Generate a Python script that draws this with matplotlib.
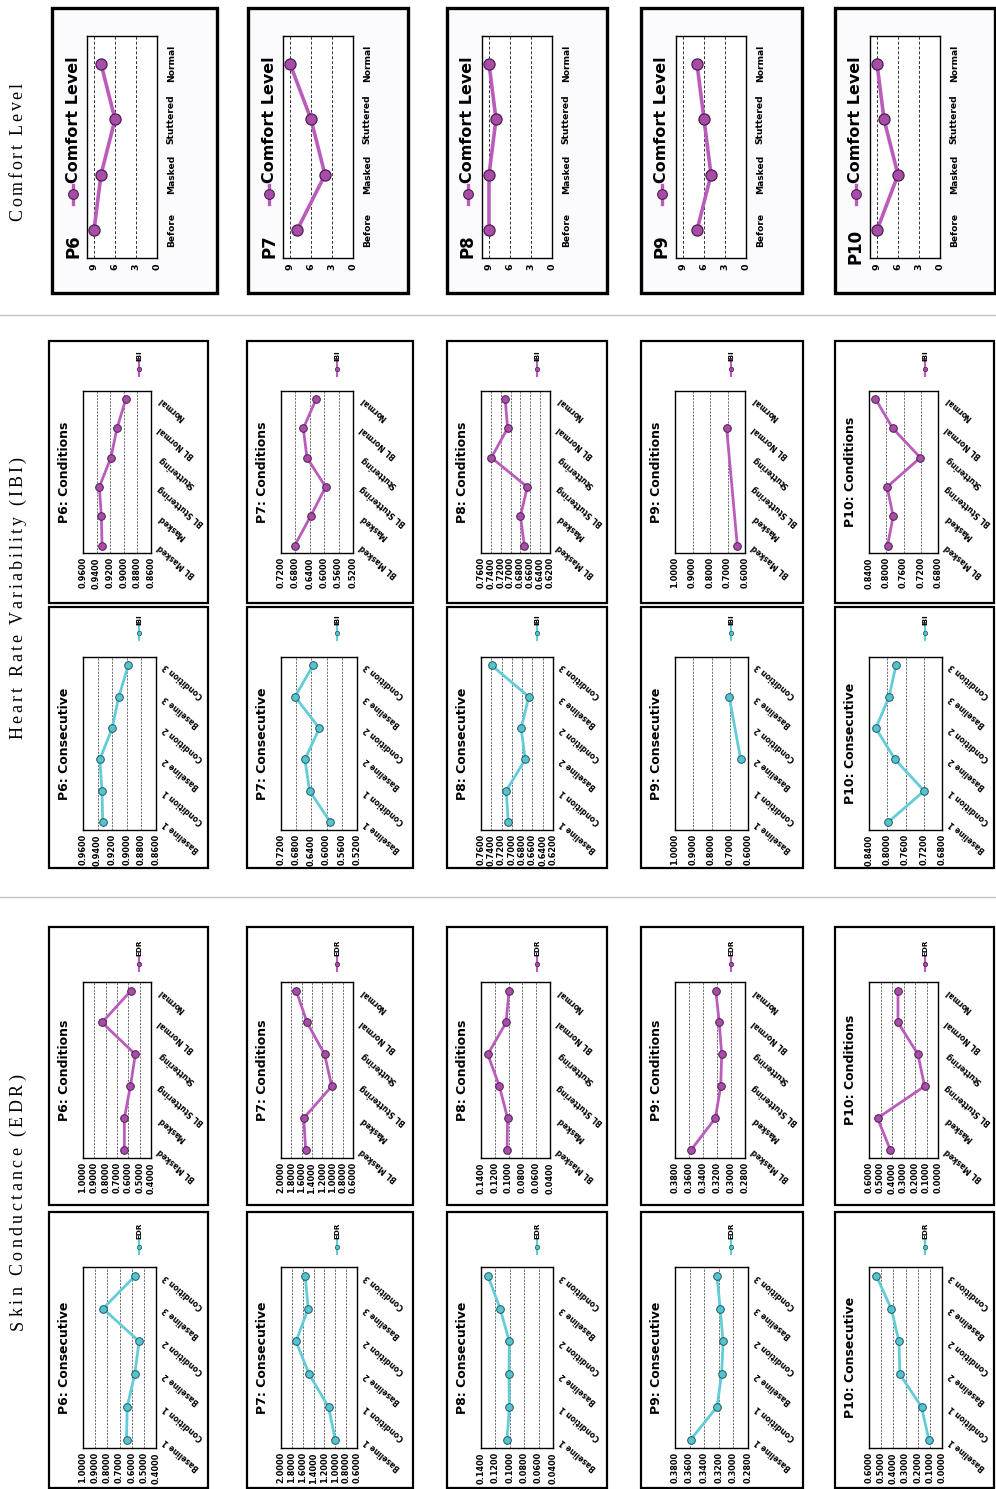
import numpy as np
import matplotlib
matplotlib.use('Agg')
import matplotlib.pyplot as plt
from matplotlib.patches import Rectangle
from matplotlib.font_manager import FontProperties, findfont
from matplotlib.ft2font import FT2Font

W, H = 996, 1489
nan = np.nan

participants = ['P6', 'P7', 'P8', 'P9', 'P10']
comfort_cats = ['Before', 'Masked', 'Stuttered', 'Normal']
cond_cats = ['BL Masked', 'Masked', 'BL Stuttering', 'Stuttering', 'BL Normal', 'Normal']
consec_cats = ['Baseline 1', 'Condition 1', 'Baseline 2', 'Condition 2', 'Baseline 3', 'Condition 3']

# comfort level (Before, Masked, Stuttered, Normal)
comfort_p6 = [9, 8, 6, 8]
comfort_p7 = [8, 4, 6, 9]
comfort_p8 = [9, 9, 8, 9]
comfort_p9 = [7, 5, 6, 7]
comfort_p10 = [9, 6, 8, 9]
comfort_ticks = [9, 6, 3, 0]

# IBI
ibi_cond_p6 = [0.932, 0.933, 0.936, 0.919, 0.910, 0.897]
ibi_cond_p7 = [0.682, 0.638, 0.596, 0.648, 0.658, 0.622]
ibi_cond_p8 = [0.672, 0.680, 0.666, 0.739, 0.706, 0.711]
ibi_cond_p9 = [0.644, nan, nan, nan, 0.705, nan]
ibi_cond_p10 = [0.797, 0.784, 0.798, 0.721, 0.785, 0.825]

ibi_consec_p6 = [0.933, 0.934, 0.937, 0.920, 0.911, 0.898]
ibi_consec_p7 = [0.590, 0.645, 0.657, 0.619, 0.683, 0.636]
ibi_consec_p8 = [0.707, 0.711, 0.674, 0.682, 0.667, 0.739]
ibi_consec_p9 = [nan, nan, 0.640, nan, 0.703, nan]
ibi_consec_p10 = [0.798, 0.719, 0.783, 0.825, 0.796, 0.781]

# EDR
edr_cond_p6 = [0.635, 0.635, 0.582, 0.538, 0.832, 0.576]
edr_cond_p7 = [1.520, 1.558, 1.014, 1.152, 1.493, 1.705]
edr_cond_p8 = [0.1022, 0.1015, 0.1133, 0.1302, 0.1036, 0.0994]
edr_cond_p9 = [0.3571, 0.3224, 0.3147, 0.3133, 0.3168, 0.3217]
edr_cond_p10 = [0.414, 0.526, 0.117, 0.174, 0.348, 0.348]

edr_consec_p6 = [0.642, 0.637, 0.575, 0.539, 0.835, 0.573]
edr_consec_p7 = [1.000, 1.125, 1.482, 1.723, 1.500, 1.554]
edr_consec_p8 = [0.1039, 0.1006, 0.1013, 0.1006, 0.1135, 0.1303]
edr_consec_p9 = [0.3587, 0.3226, 0.3161, 0.3142, 0.3181, 0.3226]
edr_consec_p10 = [0.108, 0.168, 0.346, 0.354, 0.417, 0.540]

# value axis (max, min, step) per participant
ibi_axis = [(0.96, 0.86, 0.02), (0.72, 0.52, 0.04), (0.76, 0.62, 0.02), (1.0, 0.6, 0.1), (0.84, 0.68, 0.04)]
edr_axis = [(1.0, 0.4, 0.1), (2.0, 0.6, 0.2), (0.14, 0.04, 0.02), (0.38, 0.28, 0.02), (0.6, 0.0, 0.1)]

comfort_vals = [comfort_p6, comfort_p7, comfort_p8, comfort_p9, comfort_p10]
ibi_cond = [ibi_cond_p6, ibi_cond_p7, ibi_cond_p8, ibi_cond_p9, ibi_cond_p10]
ibi_consec = [ibi_consec_p6, ibi_consec_p7, ibi_consec_p8, ibi_consec_p9, ibi_consec_p10]
edr_cond = [edr_cond_p6, edr_cond_p7, edr_cond_p8, edr_cond_p9, edr_cond_p10]
edr_consec = [edr_consec_p6, edr_consec_p7, edr_consec_p8, edr_consec_p9, edr_consec_p10]

purple_line, purple_face, purple_edge = '#bb5cbd', '#a84ca9', '#4b1f4c'
cyan_line, cyan_face, cyan_edge = '#62cdd8', '#55c3cf', '#1f5a60'

# layout in pixels
col_x = [49, 247, 447, 641, 835]
col_w = [159, 166, 160, 162, 159]
cond_pw = [68, 72, 69, 70, 69]
consec_pw = [73, 76, 72, 73, 73]
comfort_x = [52, 248, 447, 641, 835]
comfort_w = [165, 160, 160, 161, 160]

fig = plt.figure(figsize=(W / 100, H / 100), dpi=100)
fig.patch.set_facecolor('white')
ov = fig.add_axes([0, 0, 1, 1], zorder=-1)
ov.set_xlim(0, W)
ov.set_ylim(H, 0)
ov.axis('off')


def new_axes(x0, y0, w, h):
    return fig.add_axes([x0 / W, 1 - (y0 + h) / H, w / W, h / H])


def spaced_text(x, yc, s, size, track):
    fp = FontProperties(family='Liberation Serif', size=size)
    ft = FT2Font(findfont(fp))
    ft.set_size(size, 100)
    advs = [ft.load_char(ord(c)).linearHoriAdvance / 65536 for c in s]
    total = sum(advs) + track * (len(s) - 1)
    y = yc + total / 2
    for c, a in zip(s, advs):
        ov.text(x, y - a / 2, c, rotation=90, ha='center', va='center', fontproperties=fp)
        y -= a + track


def comfort_panel(i):
    fx, fw = comfort_x[i], comfort_w[i]
    ov.add_patch(Rectangle((fx, 8), fw, 285, fc='#fbfbfd', ec='black', lw=2.4))
    ax = new_axes(fx + 35, 36, 70, 222)
    vals = comfort_vals[i]
    ax.plot(vals, range(len(vals)), color=purple_line, lw=2.6, marker='o', ms=8,
            mfc=purple_face, mec=purple_edge, mew=0.9, zorder=3)
    ax.set_xlim(10, 0)
    ax.set_ylim(-0.5, 3.5)
    ax.set_xticks(comfort_ticks)
    ax.set_xticklabels([str(t) for t in comfort_ticks], rotation=90, fontsize=6.8, fontweight='bold')
    ax.yaxis.tick_right()
    ax.set_yticks(range(len(comfort_cats)))
    ax.set_yticklabels(comfort_cats, rotation=90, ha='left', va='center', fontsize=6.6, fontweight='bold')
    ax.tick_params(axis='x', length=0, pad=4)
    ax.tick_params(axis='y', length=0, pad=7)
    for t in comfort_ticks[:-1]:
        ax.axvline(t, color='#333333', lw=0.7, ls=(0, (3, 2)), zorder=1)
    for s in ax.spines.values():
        s.set_linewidth(1.0)
    lx = fx + 21
    ov.text(lx, 246, participants[i], rotation=90, ha='center', va='center', fontsize=12, fontweight='bold')
    ov.plot([lx, lx], [185, 204], color=purple_line, lw=2.4)
    ov.plot([lx], [194], marker='o', ms=7, mfc=purple_face, mec=purple_edge, mew=0.8)
    ov.text(lx, 183, 'Comfort Level', rotation=90, ha='center', va='bottom', fontsize=11.5, fontweight='bold')


def small_panel(i, fy0, fy1, py0, py1, pw, kind, vals, cats, axis_range, colors, leg_dy, legend):
    fx, fw = col_x[i], col_w[i]
    line_c, face_c, edge_c = colors
    ov.add_patch(Rectangle((fx, fy0), fw, fy1 - fy0, fc='white', ec='black', lw=1.6))
    ax = new_axes(fx + 34, py0, pw, py1 - py0)
    hi, lo, step = axis_range
    n = int(round((hi - lo) / step)) + 1
    ticks = np.linspace(hi, lo, n)
    v = np.array(vals, dtype=float)
    idx = np.arange(len(v))
    ok = ~np.isnan(v)
    ax.plot(v[ok], idx[ok], color=line_c, lw=2.0, marker='o', ms=5.5,
            mfc=face_c, mec=edge_c, mew=0.7, zorder=3)
    ax.set_xlim(hi, lo)
    ax.set_ylim(-0.25, len(v) - 1 + 0.27)
    ax.set_xticks(ticks)
    ax.set_xticklabels(['%.4f' % t for t in ticks], rotation=90, fontsize=5.9, fontweight='bold')
    ax.yaxis.tick_right()
    ax.set_yticks(idx)
    ax.set_yticklabels(cats, rotation=140, rotation_mode='anchor', ha='right', va='center',
                       fontsize=5.5, fontweight='bold')
    ax.tick_params(axis='x', length=0, pad=3)
    ax.tick_params(axis='y', length=0, pad=6)
    for t in ticks[1:-1]:
        ax.axvline(t, color='#555555', lw=0.6, ls=(0, (2.5, 1.5)), zorder=1)
    for s in ax.spines.values():
        s.set_linewidth(1.0)
    ov.text(fx + 16, (py0 + py1) / 2, '%s: %s' % (participants[i], kind), rotation=90,
            ha='center', va='center', fontsize=9, fontweight='bold')
    lx = fx + 90
    ly = fy0 + leg_dy
    ov.plot([lx, lx], [ly - 7, ly + 7], color=line_c, lw=1.5)
    ov.plot([lx], [ly], marker='o', ms=3.2, mfc=face_c, mec=edge_c, mew=0.5)
    ov.text(lx, ly - 8, legend, rotation=90, ha='center', va='bottom', fontsize=5.2, fontweight='bold')


purple = (purple_line, purple_face, purple_edge)
cyan = (cyan_line, cyan_face, cyan_edge)

for i in range(5):
    comfort_panel(i)
    small_panel(i, 341, 603, 391, 553, cond_pw[i], 'Conditions', ibi_cond[i], cond_cats,
                ibi_axis[i], purple, 28, 'IBI')
    small_panel(i, 607, 868, 657, 830, consec_pw[i], 'Consecutive', ibi_consec[i], consec_cats,
                ibi_axis[i], cyan, 26, 'IBI')
    small_panel(i, 927, 1205, 982, 1158, cond_pw[i], 'Conditions', edr_cond[i], cond_cats,
                edr_axis[i], purple, 37, 'EDR')
    small_panel(i, 1212, 1488, 1267, 1448, consec_pw[i], 'Consecutive', edr_consec[i], consec_cats,
                edr_axis[i], cyan, 35, 'EDR')

# section separators and labels
ov.plot([0, W], [315, 315], color='#c4c4c4', lw=1.0)
ov.plot([0, W], [897, 897], color='#c4c4c4', lw=1.0)
spaced_text(18, 152, 'Comfort Level', 13, 2.6)
spaced_text(18, 598, 'Heart Rate Variability (IBI)', 13, 3.0)
spaced_text(18, 1202, 'Skin Conductance (EDR)', 13, 3.4)

fig.savefig('out.png', dpi=100)
